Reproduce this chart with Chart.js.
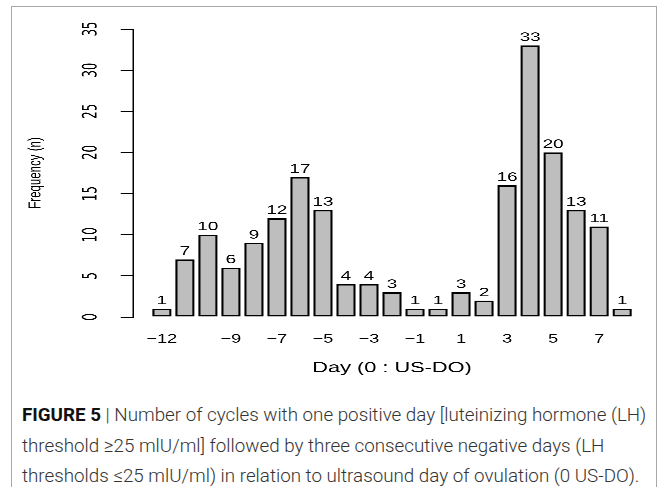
<!DOCTYPE html>
<html>
<head>
<meta charset="utf-8">
<script src="https://cdn.jsdelivr.net/npm/chart.js@4.4.0/dist/chart.umd.min.js"></script>
<style>
body { margin: 0; background: #fff; width: 667px; height: 487px; overflow: hidden; position: relative; }
#frame { position: absolute; left: 11px; top: 6px; width: 644px; height: 520px; border: 1.5px solid #a8a8a8; }
#wrap { position: absolute; left: 0; top: 0; width: 445px; height: 390px; transform: scaleX(1.5); transform-origin: 0 0; }
#caption { position: absolute; left: 22px; top: 400px; font-family: Roboto, "Liberation Sans", sans-serif; font-weight: 300; font-size: 18.8px; line-height: 30.5px; color: #333; white-space: nowrap; }
#caption b { color: #111; font-weight: 700; }
</style>
</head>
<body>
<div id="frame"></div>
<div id="wrap"><canvas id="chart" width="445" height="390"></canvas></div>
<div id="caption"><b>FIGURE 5</b> | Number of cycles with one positive day [luteinizing hormone (LH)<br>threshold ≥25 mlU/ml] followed by three consecutive negative days (LH<br>thresholds ≤25 mlU/ml) in relation to ultrasound day of ovulation (0 US-DO).</div>
<script>
// days relative to ultrasound day of ovulation
let days = [-12, -11, -10, -9, -8, -7, -6, -5, -4, -3, -2, -1, 0, 1, 2, 3, 4, 5, 6, 7, 8]
let frequency = [1, 7, 10, 6, 9, 12, 17, 13, 4, 4, 3, 1, 1, 3, 2, 16, 33, 20, 13, 11, 1]
let dayTicks = [-12, -9, -7, -5, -3, -1, 1, 3, 5, 7]
let freqTicks = [0, 5, 10, 15, 20, 25, 30, 35]

let labelFont = '"Liberation Sans", Arial, sans-serif'
let narrowFont = '"Liberation Sans Narrow", "DejaVu Sans Condensed", "Liberation Sans", sans-serif'

// numbers above each bar
const barLabels = {
    id: 'barLabels',
    afterDatasetsDraw(chart) {
        let ctx = chart.ctx
        let meta = chart.getDatasetMeta(0)
        ctx.save()
        ctx.font = '12.5px ' + labelFont
        ctx.fillStyle = '#000'
        ctx.textAlign = 'center'
        ctx.textBaseline = 'bottom'
        meta.data.forEach((bar, i) => {
            ctx.fillText(String(frequency[i]), bar.x, bar.y - 1.5)
        })
        ctx.restore()
    }
}

let canvas = document.querySelector("#chart")

let config = {
    type: 'bar',
    data: {
        datasets: [
            {
                data: days.map((d, i) => ({ x: d, y: frequency[i] })),
                backgroundColor: '#bebebe',
                borderColor: '#000',
                borderWidth: 1.5,
                borderSkipped: false,
                categoryPercentage: 1,
                barPercentage: 0.833
            }
        ]
    },
    options: {
        responsive: false,
        animation: false,
        devicePixelRatio: 3,
        layout: { padding: { top: 29, right: 11, bottom: 0, left: 0 } },
        plugins: { legend: { display: false }, tooltip: { enabled: false } },
        scales: {
            x: {
                type: 'linear',
                min: -13.25,
                max: 9.25,
                offset: false,
                afterBuildTicks: (s) => { s.ticks = dayTicks.map(v => ({ value: v })) },
                afterFit: (s) => { s.height = 73 },
                border: { display: false },
                grid: { display: false, drawTicks: false },
                ticks: {
                    autoSkip: false,
                    maxRotation: 0,
                    padding: 15,
                    color: '#000',
                    font: { family: labelFont, size: 12 },
                    callback: (v) => String(v).replace('-', '\u2212')
                },
                title: {
                    display: true,
                    text: 'Day (0 : US-DO)',
                    color: '#000',
                    font: { family: labelFont, size: 14.5 },
                    padding: { top: 0, bottom: 13 }
                }
            },
            y: {
                min: 0,
                max: 35,
                afterBuildTicks: (s) => { s.ticks = freqTicks.map(v => ({ value: v })) },
                afterFit: (s) => { s.width = 88.7 },
                border: { display: true, color: '#000', width: 1 },
                grid: { drawOnChartArea: false, drawTicks: true, tickLength: 8.2, color: '#000', lineWidth: 1 },
                ticks: {
                    minRotation: 90,
                    maxRotation: 90,
                    crossAlign: 'center',
                    padding: 12,
                    color: '#000',
                    font: { family: narrowFont, size: 13 }
                },
                title: {
                    display: true,
                    text: 'Frequency (n)',
                    color: '#000',
                    font: { family: labelFont, size: 11.5 },
                    padding: { top: 17, bottom: 0 }
                }
            }
        }
    },
    plugins: [barLabels]
}
const myChart = new Chart(canvas, config)
</script>
</body>
</html>
